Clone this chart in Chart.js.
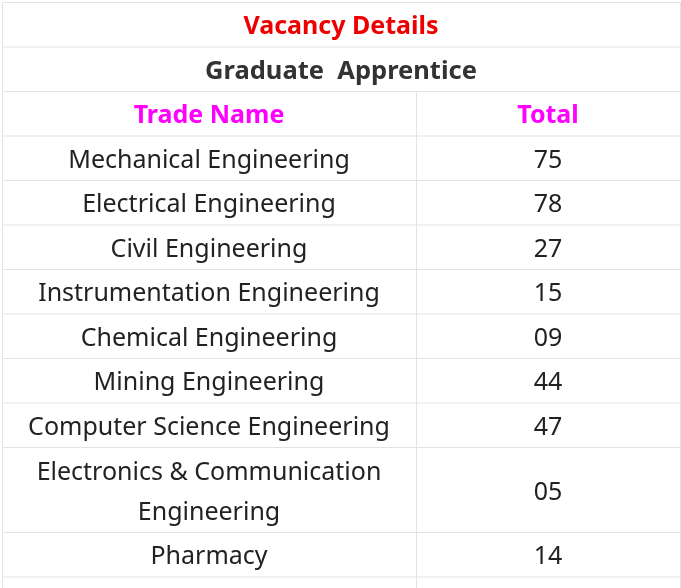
<!DOCTYPE html>
<html><head><meta charset="utf-8">
<script src="https://cdn.jsdelivr.net/npm/chart.js@4"></script>
<style>html,body{margin:0;padding:0;background:#fff}</style>
</head><body>
<canvas id="c" width="681" height="588"></canvas>
<script>
const title = "Vacancy Details";
const subtitle = "Graduate  Apprentice";
const headers = ["Trade Name", "Total"];
const trades = ["Mechanical Engineering","Electrical Engineering","Civil Engineering","Instrumentation Engineering","Chemical Engineering","Mining Engineering","Computer Science Engineering","Electronics & Communication Engineering","Pharmacy"];
const totals = ["75","78","27","15","09","44","47","05","14"];

const FONT = '"Noto Sans", "Open Sans", sans-serif';
const tablePlugin = {
  id: 'table',
  afterDraw(chart) {
    const ctx = chart.ctx, sx = chart.scales.x, sy = chart.scales.y;
    const X = v => sx.getPixelForValue(v), Y = v => sy.getPixelForValue(v);
    const L = 2, R = 680, MID = 416, RH = 44.5, LH = 40, OFF = 3;
    ctx.save();
    ctx.textAlign = 'center'; ctx.textBaseline = 'middle';
    const hline = (yy) => { ctx.strokeStyle = '#e3e3e3'; ctx.lineWidth = 1; ctx.beginPath(); ctx.moveTo(X(L), Y(yy)+0.5); ctx.lineTo(X(R), Y(yy)+0.5); ctx.stroke(); };
    const vline = (xx, a, b) => { ctx.strokeStyle = '#e3e3e3'; ctx.lineWidth = 1; ctx.beginPath(); ctx.moveTo(X(xx)+0.5, Y(a)); ctx.lineTo(X(xx)+0.5, Y(b)); ctx.stroke(); };
    let top = 2;
    hline(top);
    ctx.font = 'bold 25px ' + FONT; ctx.fillStyle = '#ee0000';
    ctx.fillText(title, X((L+R)/2), Y(top + RH/2 + OFF)); top += RH; hline(top);
    ctx.fillStyle = '#333'; ctx.font = 'bold 25.5px ' + FONT;
    ctx.fillText(subtitle, X((L+R)/2), Y(top + RH/2 + OFF)); top += RH; hline(top);
    const colStart = top;
    ctx.fillStyle = '#ff00ff'; ctx.font = 'bold 25px ' + FONT;
    ctx.fillText(headers[0], X((L+MID)/2), Y(top + RH/2 + OFF));
    ctx.fillText(headers[1], X((MID+R)/2), Y(top + RH/2 + OFF));
    top += RH; hline(top);
    ctx.font = '25px ' + FONT; ctx.fillStyle = '#222';
    const maxW = (MID - L) - 20;
    trades.forEach((t, i) => {
      const words = t.split(' '); const lines = []; let cur = '';
      words.forEach(w => { const test = cur ? cur + ' ' + w : w; if (ctx.measureText(test).width > maxW && cur) { lines.push(cur); cur = w; } else cur = test; });
      lines.push(cur);
      const h = lines.length > 1 ? lines.length * LH + 5 : RH;
      const cy = top + h/2 + OFF;
      lines.forEach((ln, k) => ctx.fillText(ln, X((L+MID)/2), Y(cy + (k - (lines.length-1)/2) * LH)));
      ctx.fillText(totals[i], X((MID+R)/2), Y(cy));
      top += h; hline(top);
    });
    vline(L, 2, 588); vline(R, 2, 588); vline(MID, colStart, 588);
    ctx.restore();
  }
};
new Chart(document.getElementById('c'), {
  type: 'scatter',
  data: { datasets: [{ data: [] }] },
  options: {
    responsive: false, animation: false,
    layout: { padding: 0 },
    plugins: { legend: { display: false }, tooltip: { enabled: false } },
    scales: {
      x: { type: 'linear', min: 0, max: 681, display: false },
      y: { type: 'linear', min: 0, max: 588, reverse: true, display: false }
    }
  },
  plugins: [tablePlugin]
});
</script>
</body></html>
